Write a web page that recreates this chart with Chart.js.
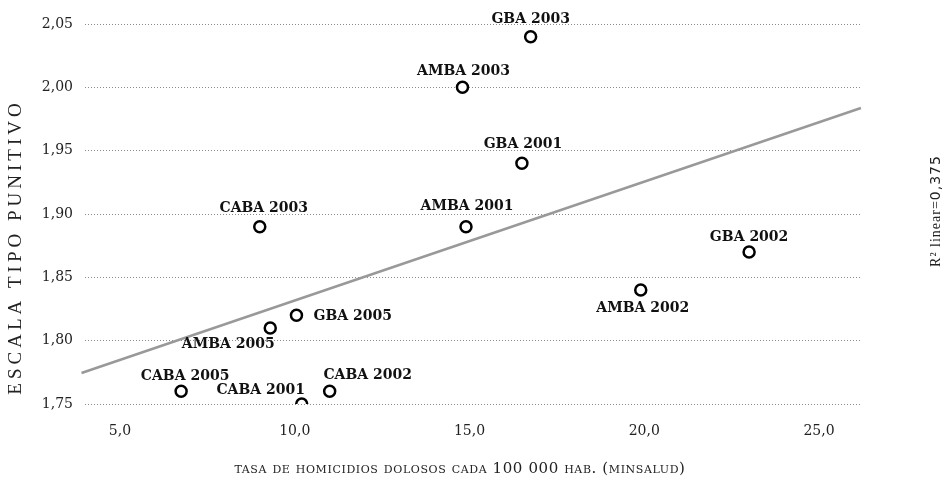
<!DOCTYPE html>
<html>
<head>
<meta charset="utf-8">
<script src="https://cdn.jsdelivr.net/npm/chart.js@4/dist/chart.umd.min.js"></script>
<style>
  html, body { margin: 0; padding: 0; background: #ffffff; }
  #wrap { width: 952px; height: 493px; }
</style>
</head>
<body>
<div id="wrap"><canvas id="c" width="952" height="493"></canvas></div>
<script>
// ---- data ----
const pointLabels = ['GBA 2003','AMBA 2003','GBA 2001','CABA 2003','AMBA 2001','GBA 2005','AMBA 2005','CABA 2005','CABA 2001','CABA 2002','AMBA 2002','GBA 2002'];
const homicideRate = [16.75, 14.8, 16.5, 9.0, 14.9, 10.05, 9.3, 6.75, 10.2, 11.0, 19.9, 23.0];
const punitiveScale = [2.04, 2.00, 1.94, 1.89, 1.89, 1.82, 1.81, 1.76, 1.75, 1.76, 1.84, 1.87];
const trendX = [3.9, 26.2];
const trendY = [1.7745, 1.9837];
const xTicks = [5, 10, 15, 20, 25];
const yTicks = [1.75, 1.80, 1.85, 1.90, 1.95, 2.00, 2.05];
const xTitle = 'tasa de homicidios dolosos cada 100 000 hab. (minsalud)';
const yTitle = 'ESCALA TIPO PUNITIVO';
const r2Text = ['R² linear=', '0,375'];

// label placement relative to each point (plugin layout only)
const labelPlacement = {
  'GBA 2003':  {dx: 0,   dy: -18, align: 'center'},
  'AMBA 2003': {dx: 1,   dy: -17, align: 'center'},
  'GBA 2001':  {dx: 1,   dy: -20, align: 'center'},
  'CABA 2003': {dx: 4,   dy: -19, align: 'center'},
  'AMBA 2001': {dx: 1,   dy: -21, align: 'center'},
  'GBA 2005':  {dx: 17,  dy: 0,   align: 'left'},
  'AMBA 2005': {dx: -42, dy: 15,  align: 'center'},
  'CABA 2005': {dx: 4,   dy: -16, align: 'center'},
  'CABA 2001': {dx: -41, dy: -15, align: 'center'},
  'CABA 2002': {dx: 38,  dy: -17, align: 'center'},
  'AMBA 2002': {dx: 2,   dy: 17,  align: 'center'},
  'GBA 2002':  {dx: 0,   dy: -16, align: 'center'}
};

const scatterData = homicideRate.map((x, i) => ({x: x, y: punitiveScale[i]}));
const trendData = trendX.map((x, i) => ({x: x, y: trendY[i]}));

const labelPlugin = {
  id: 'pointLabels',
  afterDatasetsDraw(chart) {
    const ctx = chart.ctx;
    const meta = chart.getDatasetMeta(1);
    ctx.save();
    ctx.font = 'bold 14px "DejaVu Serif"';
    ctx.fillStyle = '#111111';
    ctx.textBaseline = 'middle';
    meta.data.forEach((el, i) => {
      const name = pointLabels[i];
      const p = labelPlacement[name];
      ctx.textAlign = p.align;
      ctx.fillText(name, el.x + p.dx, el.y + p.dy + 1);
    });
    ctx.restore();
  }
};

const titlePlugin = {
  id: 'axisTitles',
  afterDraw(chart) {
    const ctx = chart.ctx;
    const area = chart.chartArea;
    // x title
    ctx.save();
    ctx.fillStyle = '#222222';
    ctx.font = 'small-caps 15px "DejaVu Serif"';
    ctx.letterSpacing = '0.6px';
    ctx.textAlign = 'center';
    ctx.textBaseline = 'middle';
    ctx.fillText(xTitle, 460, 469);
    ctx.restore();
    // y title
    ctx.save();
    ctx.fillStyle = '#222222';
    ctx.font = '19px "Liberation Serif"';
    ctx.letterSpacing = '4px';
    ctx.translate(16, 247);
    ctx.rotate(-Math.PI / 2);
    ctx.textAlign = 'center';
    ctx.textBaseline = 'middle';
    ctx.fillText(yTitle, 0, 0);
    ctx.restore();
    // R² label
    ctx.save();
    ctx.fillStyle = '#222222';
    ctx.translate(936, 211);
    ctx.rotate(-Math.PI / 2);
    ctx.textBaseline = 'middle';
    ctx.letterSpacing = '1px';
    ctx.font = '14px "Liberation Serif"';
    const w1 = ctx.measureText(r2Text[0]).width;
    ctx.font = '14px "DejaVu Sans"';
    const w2 = ctx.measureText(r2Text[1]).width;
    const start = -(w1 + w2) / 2;
    ctx.textAlign = 'left';
    ctx.font = '14px "Liberation Serif"';
    ctx.fillText(r2Text[0], start, 0);
    ctx.font = '14px "DejaVu Sans"';
    ctx.fillText(r2Text[1], start + w1, 0);
    ctx.restore();
  }
};

new Chart(document.getElementById('c'), {
  type: 'scatter',
  data: {
    datasets: [
      {
        type: 'line',
        data: trendData,
        borderColor: '#999999',
        borderWidth: 2.5,
        pointRadius: 0,
        fill: false,
        clip: false,
        order: 2
      },
      {
        data: scatterData,
        pointRadius: 5.5,
        pointBorderWidth: 2.5,
        pointBackgroundColor: '#ffffff',
        pointBorderColor: '#000000',
        order: 1
      }
    ]
  },
  options: {
    responsive: false,
    animation: false,
    devicePixelRatio: 1,
    layout: { padding: { top: 24, right: 90, left: 0, bottom: 0 } },
    plugins: {
      legend: { display: false },
      tooltip: { enabled: false }
    },
    scales: {
      x: {
        type: 'linear',
        min: 4.0,
        max: 26.23,
        afterBuildTicks: (scale) => { scale.ticks = xTicks.map(v => ({value: v})); },
        afterFit: (scale) => { scale.height = 89; },
        grid: { display: false, drawTicks: false },
        border: { display: false },
        ticks: {
          padding: 19,
          color: '#222222',
          font: { family: '"DejaVu Serif"', size: 14 },
          callback: (v) => Number(v).toFixed(1).replace('.', ',')
        }
      },
      y: {
        type: 'linear',
        min: 1.75,
        max: 2.05,
        afterBuildTicks: (scale) => { scale.ticks = yTicks.map(v => ({value: v})); },
        afterFit: (scale) => { scale.width = 85; },
        grid: {
          color: '#8a8a8a',
          lineWidth: 1,
          drawTicks: false
        },
        border: { display: false, dash: [1, 2] },
        ticks: {
          padding: 12,
          color: '#222222',
          font: { family: '"DejaVu Serif"', size: 14 },
          callback: (v) => Number(v).toFixed(2).replace('.', ',')
        }
      }
    }
  },
  plugins: [labelPlugin, titlePlugin]
});
</script>
</body>
</html>
